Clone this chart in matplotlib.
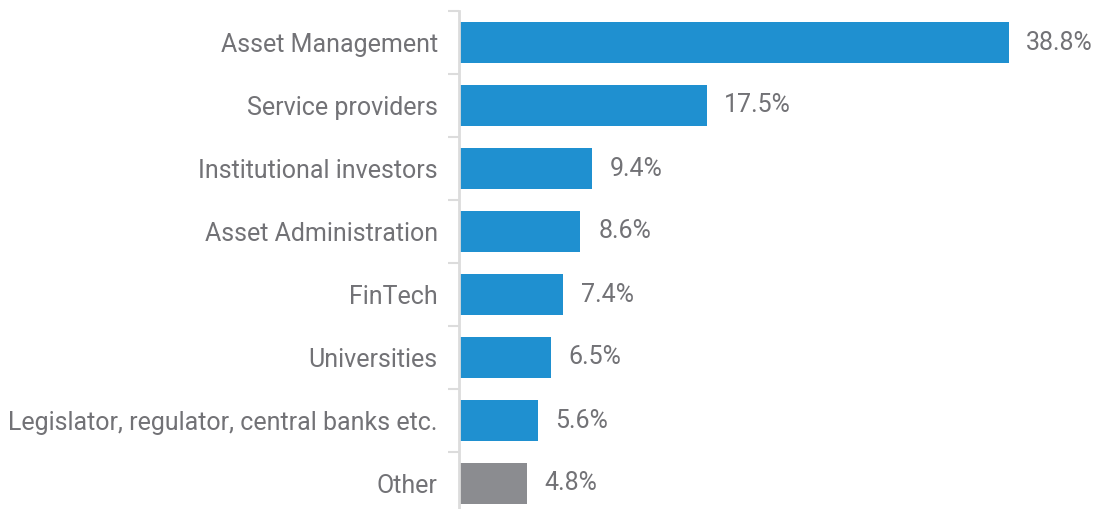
import matplotlib
matplotlib.use("Agg")
import matplotlib.pyplot as plt

# Anteile nach Sektor
categories = ['Asset Management', 'Service providers', 'Institutional investors',
              'Asset Administration', 'FinTech', 'Universities',
              'Legislator, regulator, central banks etc.', 'Other']
shares = [38.8, 17.5, 9.4, 8.6, 7.4, 6.5, 5.6, 4.8]
colors = ['#1f90d0'] * 7 + ['#8b8c90']

plt.rcParams['font.family'] = ['Roboto', 'DejaVu Sans']
text_color = '#727276'

fig = plt.figure(figsize=(11.03, 5.09), dpi=100)
ax = fig.add_axes([458.5 / 1103, -6 / 509, 638 / 1103, 504 / 509])

y = list(range(len(categories)))
ax.barh(y, shares, height=0.65, color=colors)

for yi, v in zip(y, shares):
    ax.text(v + 1.25, yi, f'{v}%', va='center', ha='left',
            fontsize=18, color=text_color)

ax.set_xlim(0, 45)
ax.set_ylim(len(categories) - 0.5, -0.5)

# Kategorie-Beschriftungen und Trennstriche zwischen den Balken
ax.set_yticks(y)
ax.set_yticklabels(categories, fontsize=18, color=text_color)
ax.tick_params(axis='y', which='major', length=0, pad=15)
ax.set_yticks([i - 0.5 for i in range(len(categories) + 1)], minor=True)
ax.tick_params(axis='y', which='minor', length=8, width=1.5, color='#dcdcdc')
ax.set_xticks([])

for side in ['top', 'right', 'bottom']:
    ax.spines[side].set_visible(False)
ax.spines['left'].set_color('#dcdcdc')
ax.spines['left'].set_linewidth(2)

fig.savefig('out.png', dpi=100)
